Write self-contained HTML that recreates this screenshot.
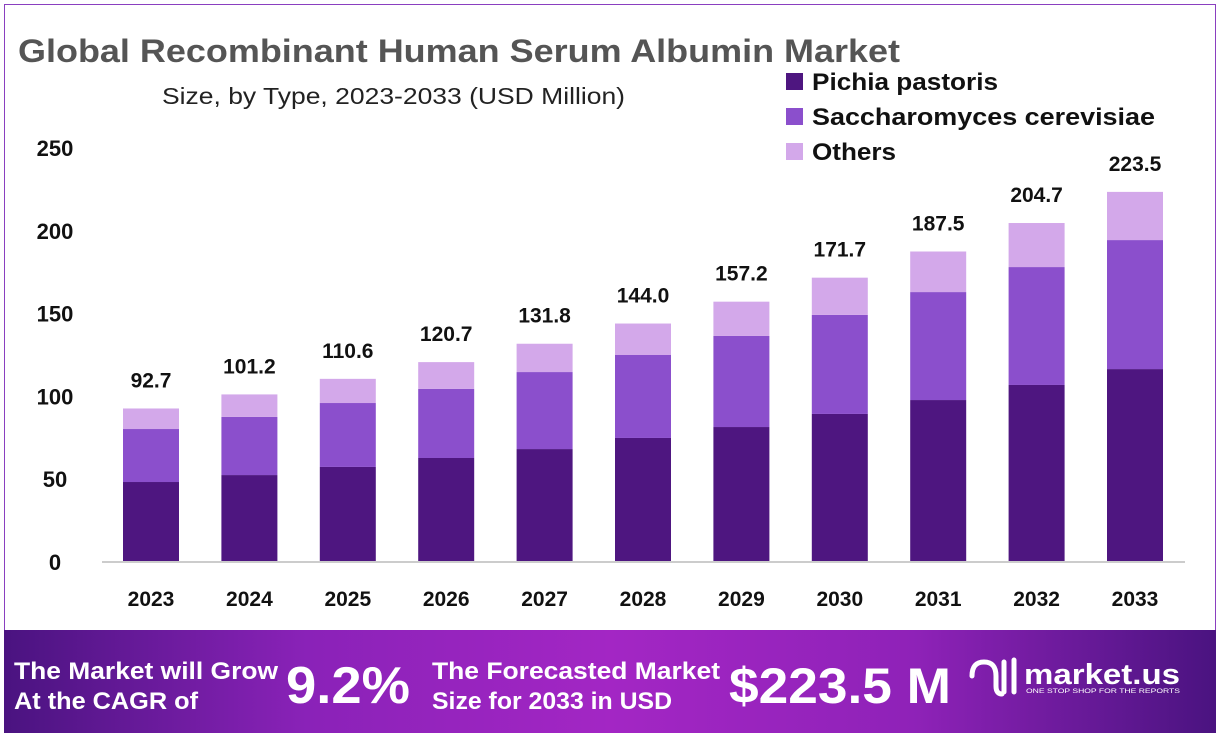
<!DOCTYPE html>
<html><head><meta charset="utf-8"><style>
body{margin:0;background:#fff;}
svg{display:block;font-family:"Liberation Sans",sans-serif;}
</style></head><body>
<svg id="chart" width="1220" height="745" viewBox="0 0 1220 745">
<defs>
<linearGradient id="bg" x1="0" x2="1" y1="0" y2="0">
<stop offset="0" stop-color="#4a1380"/><stop offset="0.25" stop-color="#8a22b8"/><stop offset="0.5" stop-color="#a326c4"/><stop offset="0.75" stop-color="#8f22b8"/><stop offset="1" stop-color="#4a1380"/>
</linearGradient>
</defs>
<rect x="4.5" y="4.5" width="1211" height="720" fill="none" stroke="#8a3fc0" stroke-width="1"/>
<text x="18" y="62" font-size="32" font-weight="bold" fill="#555" textLength="882" lengthAdjust="spacingAndGlyphs">Global Recombinant Human Serum Albumin Market</text>
<text x="162" y="104" font-size="23" fill="#222" textLength="463" lengthAdjust="spacingAndGlyphs">Size, by Type, 2023-2033 (USD Million)</text>
<g id="legend">
<rect x="786" y="73" width="17" height="17" fill="#4e1680"/>
<text x="812" y="90" font-size="24" font-weight="bold" fill="#111" textLength="186" lengthAdjust="spacingAndGlyphs">Pichia pastoris</text>
<rect x="786" y="108" width="17" height="17" fill="#8b4fcc"/>
<text x="812" y="125" font-size="24" font-weight="bold" fill="#111" textLength="343" lengthAdjust="spacingAndGlyphs">Saccharomyces cerevisiae</text>
<rect x="786" y="143" width="17" height="17" fill="#d3a8ea"/>
<text x="812" y="160" font-size="24" font-weight="bold" fill="#111" textLength="84" lengthAdjust="spacingAndGlyphs">Others</text>
</g>
<g id="yaxis"></g>
<g id="bars"></g>
<line x1="102" x2="1185" y1="562" y2="562" stroke="#ccc" stroke-width="2"/>
<g id="xaxis"></g>
<g>
<rect x="4" y="630" width="1212" height="103" fill="url(#bg)"/>
<text x="14" y="679" font-size="24" font-weight="bold" fill="#fff" textLength="264" lengthAdjust="spacingAndGlyphs">The Market will Grow</text>
<text x="14" y="709" font-size="24" font-weight="bold" fill="#fff" textLength="184" lengthAdjust="spacingAndGlyphs">At the CAGR of</text>
<text x="286" y="703" font-size="52" font-weight="bold" fill="#fff" textLength="124" lengthAdjust="spacingAndGlyphs">9.2%</text>
<text x="432" y="679" font-size="24" font-weight="bold" fill="#fff" textLength="288" lengthAdjust="spacingAndGlyphs">The Forecasted Market</text>
<text x="432" y="709" font-size="24" font-weight="bold" fill="#fff" textLength="240" lengthAdjust="spacingAndGlyphs">Size for 2033 in USD</text>
<text x="729" y="703" font-size="50" font-weight="bold" fill="#fff" textLength="222" lengthAdjust="spacingAndGlyphs">$223.5 M</text>
<g>
<path d="M972 676 q0 -14 12 -14 q12 0 12 14 v10 q0 8 6 8 M1004 662 v30 M1014 660 v32" stroke="#fff" stroke-width="5" fill="none" stroke-linecap="round"/>
<text x="1024" y="684" font-size="29" font-weight="bold" fill="#fff" textLength="156" lengthAdjust="spacingAndGlyphs">market.us</text>
<text x="1026" y="693" font-size="6.5" fill="#fff" textLength="154" lengthAdjust="spacingAndGlyphs">ONE STOP SHOP FOR THE REPORTS</text>
</g>
</g>
<script>
const years=["2023","2024","2025","2026","2027","2028","2029","2030","2031","2032","2033"];
const pichia=[48.3,52.5,57.4,62.8,68.2,74.9,81.5,89.4,97.8,106.9,116.5];
const sacch=[32.0,35.1,38.6,41.7,46.5,50.1,55.0,59.8,65.2,71.2,77.9];
const others=[12.4,13.6,14.6,16.2,17.1,19.0,20.7,22.5,24.5,26.6,29.1];
const totals=["92.7","101.2","110.6","120.7","131.8","144.0","157.2","171.7","187.5","204.7","223.5"];
const yTicks=[0,50,100,150,200,250];
const NS="http://www.w3.org/2000/svg";
const y0=562,yTop=148,yMax=250;
function y(v){return y0-(v/yMax)*(y0-yTop);}
function xc(i){return 151+i*(1135-151)/(years.length-1);}
const bw=56;
function mk(tag,attrs,parent){const e=document.createElementNS(NS,tag);for(const k in attrs)e.setAttribute(k,attrs[k]);parent.appendChild(e);return e;}
const ya=document.getElementById('yaxis');
yTicks.forEach(t=>{
 const e=mk('text',{x:55,y:y(t)+8,'font-size':22,'font-weight':'bold','text-anchor':'middle',fill:'#111'},ya);
 
 
 e.textContent=t;
});
const bars=document.getElementById('bars');
const xa=document.getElementById('xaxis');
const series=[[pichia,'#4e1680','pichia'],[sacch,'#8b4fcc','saccharomyces'],[others,'#d3a8ea','others']];
years.forEach((yr,i)=>{
 let base=0;
 series.forEach(([arr,col,nm])=>{
  const r=mk('rect',{x:xc(i)-bw/2,y:y(base+arr[i]),width:bw,height:y(base)-y(base+arr[i]),fill:col},bars);
  
  
  base+=arr[i];
 });
 const lbl=mk('text',{x:xc(i),y:y(base)-21,'font-size':21,'font-weight':'bold','text-anchor':'middle',fill:'#111'},bars);
 
 
 lbl.textContent=totals[i];
 const xl=mk('text',{x:xc(i),y:606,'font-size':21,'font-weight':'bold','text-anchor':'middle',fill:'#111'},xa);
 
 
 xl.textContent=yr;
});
</script>
</svg>
</body></html>
